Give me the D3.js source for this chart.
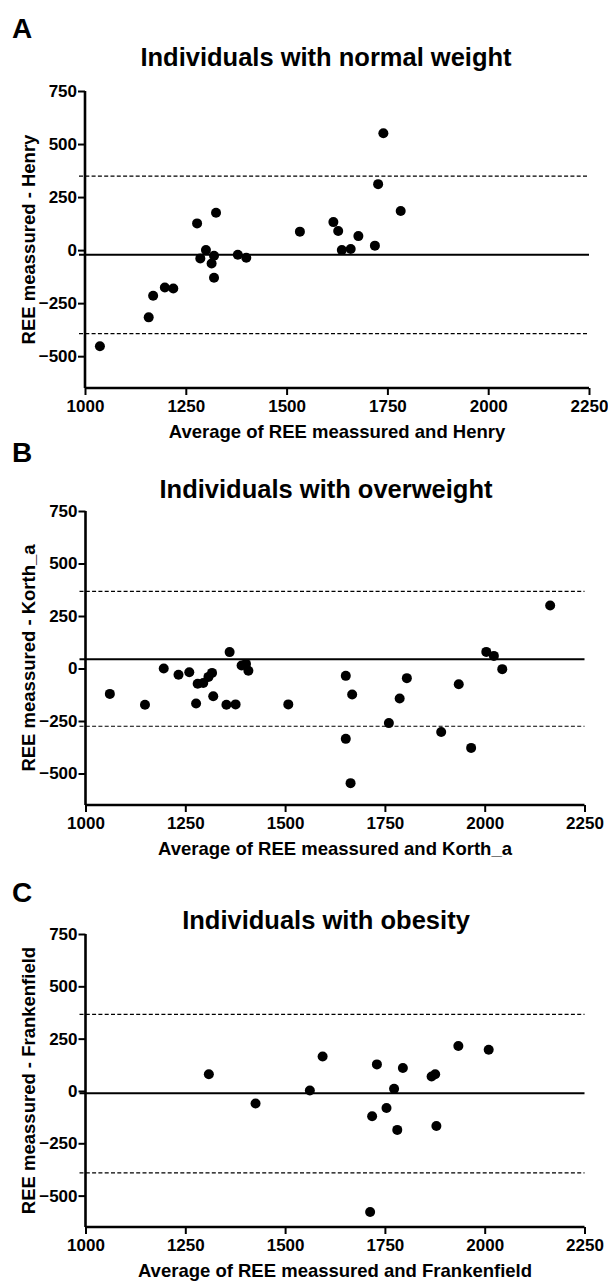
<!DOCTYPE html>
<html>
<head>
<meta charset="utf-8">
<script src="https://cdn.jsdelivr.net/npm/d3@7"></script>
<style>
  body { margin: 0; background: #fff; }
  svg text { font-family: "Liberation Sans", Arial, sans-serif; font-weight: bold; fill: #000; }
</style>
</head>
<body>
<div id="chart"></div>
<script>

// ---- data ----
const xTicks = [1000, 1250, 1500, 1750, 2000, 2250];
const yTicks = [750, 500, 250, 0, -250, -500];

// A: normal weight (Henry)
const normalAvg  = [1037, 1158, 1169, 1198, 1219, 1278, 1286, 1300, 1314, 1320, 1320, 1325, 1379, 1400, 1533, 1616, 1628, 1637, 1659, 1678, 1719, 1727, 1740, 1783];
const normalDiff = [-453, -317, -215, -176, -181, 126, -39, 0, -63, -27, -130, 176, -22, -36, 87, 132, 90, 0, 5, 66, 21, 311, 551, 184];
const normalLines = [-22, 349, -394];   // bias, upper, lower

// B: overweight (Korth_a)
const overAvg  = [1061, 1149, 1196, 1233, 1260, 1277, 1281, 1295, 1308, 1317, 1320, 1353, 1361, 1376, 1391, 1402, 1408, 1508, 1652, 1668, 1652, 1664, 1760, 1787, 1805, 1891, 1935, 1966, 2004, 2023, 2044, 2164];
const overDiff = [-121, -173, 0, -30, -18, -167, -73, -69, -40, -21, -132, -173, 78, -171, 14, 22, -11, -171, -35, -124, -335, -546, -260, -143, -46, -302, -75, -378, 79, 60, -3, 300];
const overLines = [44, 367, -275];

// C: obesity (Frankenfield)
const obeseAvg  = [1309, 1426, 1562, 1594, 1713, 1718, 1730, 1754, 1773, 1781, 1795, 1867, 1876, 1879, 1934, 2010];
const obeseDiff = [80, -60, 2, 165, -578, -121, 127, -81, 10, -186, 110, 69, 80, -167, 215, 197];
const obeseLines = [-11, 366, -391];

const panels = [
  {letter: "A", title: "Individuals with normal weight", ylab: "REE meassured - Henry",
   xlab: "Average of REE meassured and Henry", avg: normalAvg, diff: normalDiff, lines: normalLines,
   top: 91, bottom: 388, left: 85, right: 589, letterY: 38, titleY: 66},
  {letter: "B", title: "Individuals with overweight", ylab: "REE meassured - Korth_a",
   xlab: "Average of REE meassured and Korth_a", avg: overAvg, diff: overDiff, lines: overLines,
   top: 511, bottom: 805, left: 85.5, right: 584.5, letterY: 462, titleY: 498},
  {letter: "C", title: "Individuals with obesity", ylab: "REE meassured - Frankenfield",
   xlab: "Average of REE meassured and Frankenfield", avg: obeseAvg, diff: obeseDiff, lines: obeseLines,
   top: 934, bottom: 1227, left: 85.5, right: 584.5, letterY: 902, titleY: 929}
];

const W = 608, H = 1281;

const svg = d3.select("#chart").append("svg")
    .attr("width", W)
    .attr("height", H);

panels.forEach(function(p) {
    let g = svg.append("g");

    let x = d3.scaleLinear().domain([1000, 2250]).range([p.left, p.right]);
    let y = d3.scaleLinear().domain([-650, 750]).range([p.bottom, p.top]);

    // panel letter + title
    g.append("text")
        .attr("x", 12)
        .attr("y", p.letterY)
        .style("font-size", "28px")
        .text(p.letter);

    g.append("text")
        .attr("x", 326)
        .attr("y", p.titleY)
        .attr("text-anchor", "middle")
        .style("font-size", "25.5px")
        .text(p.title);

    // bias line (solid) and limits of agreement (dashed)
    g.append("line")
        .attr("x1", p.left - 6).attr("x2", p.right)
        .attr("y1", y(p.lines[0])).attr("y2", y(p.lines[0]))
        .attr("stroke", "#000").attr("stroke-width", 2.2);

    g.selectAll(".loa")
        .data(p.lines.slice(1))
        .enter()
        .append("line")
        .attr("class", "loa")
        .attr("x1", p.left - 6).attr("x2", p.right)
        .attr("y1", d => y(d)).attr("y2", d => y(d))
        .attr("stroke", "#000").attr("stroke-width", 1.2)
        .attr("stroke-dasharray", "4,2.3");

    // points
    g.selectAll(".dot")
        .data(p.avg.map((a, i) => [a, p.diff[i]]))
        .enter()
        .append("circle")
        .attr("class", "dot")
        .attr("cx", d => x(d[0]))
        .attr("cy", d => y(d[1]))
        .attr("r", 5)
        .attr("fill", "#000");

    // axes
    let xAxis = d3.axisBottom(x).tickValues(xTicks).tickSize(7).tickPadding(5).tickFormat(d3.format("d"));
    let yAxis = d3.axisLeft(y).tickValues(yTicks).tickSize(7).tickPadding(1).tickFormat(d3.format("d"));

    g.append("g")
        .attr("transform", "translate(0," + p.bottom + ")")
        .call(xAxis)
        .call(a => a.select(".domain").attr("d", "M" + p.left + ",0H" + p.right).attr("stroke-width", 2.6))
        .call(a => a.selectAll(".tick line").attr("stroke-width", 2))
        .call(a => a.selectAll("text").style("font-size", "17px").style("font-family", "Liberation Sans, Arial, sans-serif").style("font-weight", "bold"));

    g.append("g")
        .attr("transform", "translate(" + p.left + ",0)")
        .call(yAxis)
        .call(a => a.select(".domain").attr("d", "M0," + p.top + "V" + p.bottom).attr("stroke-width", 2.6))
        .call(a => a.selectAll(".tick line").attr("stroke-width", 2))
        .call(a => a.selectAll("text").style("font-size", "17px").style("font-family", "Liberation Sans, Arial, sans-serif").style("font-weight", "bold"));

    // axis titles
    g.append("text")
        .attr("x", (p.left + p.right) / 2)
        .attr("y", p.bottom + 50)
        .attr("text-anchor", "middle")
        .style("font-size", "18.5px")
        .text(p.xlab);

    g.append("text")
        .attr("transform", "translate(35," + ((p.top + p.bottom) / 2) + ") rotate(-90)")
        .attr("text-anchor", "middle")
        .style("font-size", "18.5px")
        .text(p.ylab);
});

</script>
</body>
</html>
